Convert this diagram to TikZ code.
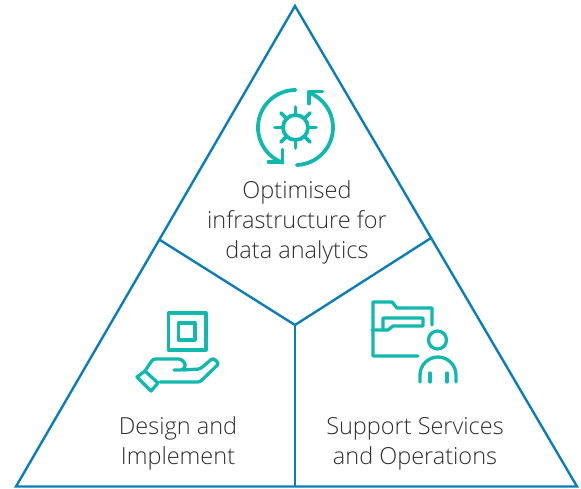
\documentclass[tikz,border=0pt]{standalone}
\usepackage{fontspec}
\setmainfont{Open Sans Light}
\definecolor{frame}{HTML}{0B7DB8}
\definecolor{icon}{HTML}{10B8AE}
\definecolor{txt}{HTML}{2E2E2E}
\tikzset{
  framed/.style={draw=frame,line width=2.4pt,line join=miter},
  iconline/.style={draw=icon,line width=3.8pt,line cap=round,line join=round},
  iconthin/.style={draw=icon,line width=3.3pt,line cap=round,line join=round},
  label/.style={text=txt,font=\fontsize{23.5}{30}\selectfont,align=center,inner sep=0pt,text depth=0pt}
}
\begin{document}
\begin{tikzpicture}[x=1pt,y=-1pt]
\useasboundingbox (0,0) rectangle (581,488);
\coordinate (apex) at (295,6);
\coordinate (bl) at (16,486.5);
\coordinate (br) at (577,486.5);
\coordinate (hub) at (295,325);
\coordinate (lm) at (160,240);
\coordinate (rm) at (431,238);
\coordinate (bm) at (295,486.5);
\draw[framed] (apex) -- (br) -- (bl) -- cycle;
\draw[framed] (lm) -- (hub) -- (rm);
\draw[framed] (hub) -- (bm);
% gear icon
\begin{scope}[shift={(295.5,127.5)}]
\draw[iconline] (0,0) circle (12.5pt);
\foreach \a in {0,45,...,315}{\draw[iconline] (\a:13pt) -- (\a:20.5pt);}
\draw[iconline] (0,-37.5) arc[start angle=90,end angle=250,radius=37.5pt];
\draw[iconline] (1.3,37.5) arc[start angle=-88,end angle=68,radius=37.5pt];
\draw[iconline] (-13,22) -- (-13,34.5) -- (-27,34.5);
\draw[iconline] (13.5,-24) -- (13.5,-36) -- (27,-36);
\end{scope}
% hand icon
\draw[iconthin] (168.5,313) rectangle (206,350);
\draw[iconthin] (178.5,323) rectangle (195,340);
\draw[iconthin] (137,377) -- (145,371) -- (158,383) -- (151,391) -- cycle;
\draw[iconthin,rounded corners=2.5pt] (145,371) -- (153,359) -- (181,359) -- (186,364.5) -- (183,370) -- (174,370);
\draw[iconthin,rounded corners=2.5pt] (183,370) -- (200,369) -- (213,358) -- (219,363.5) -- (200,382) -- (160,382);
% folder and person icon
\draw[iconthin] (432,325) -- (432,308) -- (397,308) -- (392,302) -- (373,302) -- (373,356) -- (418,356);
\draw[iconthin] (372,330) -- (388,330) -- (393,326) -- (423,326) -- (423,318) -- (383,318) -- (383,330);
\draw[iconthin] (437.5,340) circle (9pt);
\draw[iconthin] (420,382) -- (420,375) arc[start angle=180,end angle=0,radius=18pt] -- (456,382);
\draw[iconthin] (430,373) -- (430,382);
\draw[iconthin] (447,373) -- (447,382);
% labels
\node[label] (top) at (297,220) {Optimised\\infrastructure for\\data analytics};
\node[label] (left) at (178,441) {Design and\\Implement};
\node[label] (right) at (415,441) {Support Services\\and Operations};
\end{tikzpicture}
\end{document}
